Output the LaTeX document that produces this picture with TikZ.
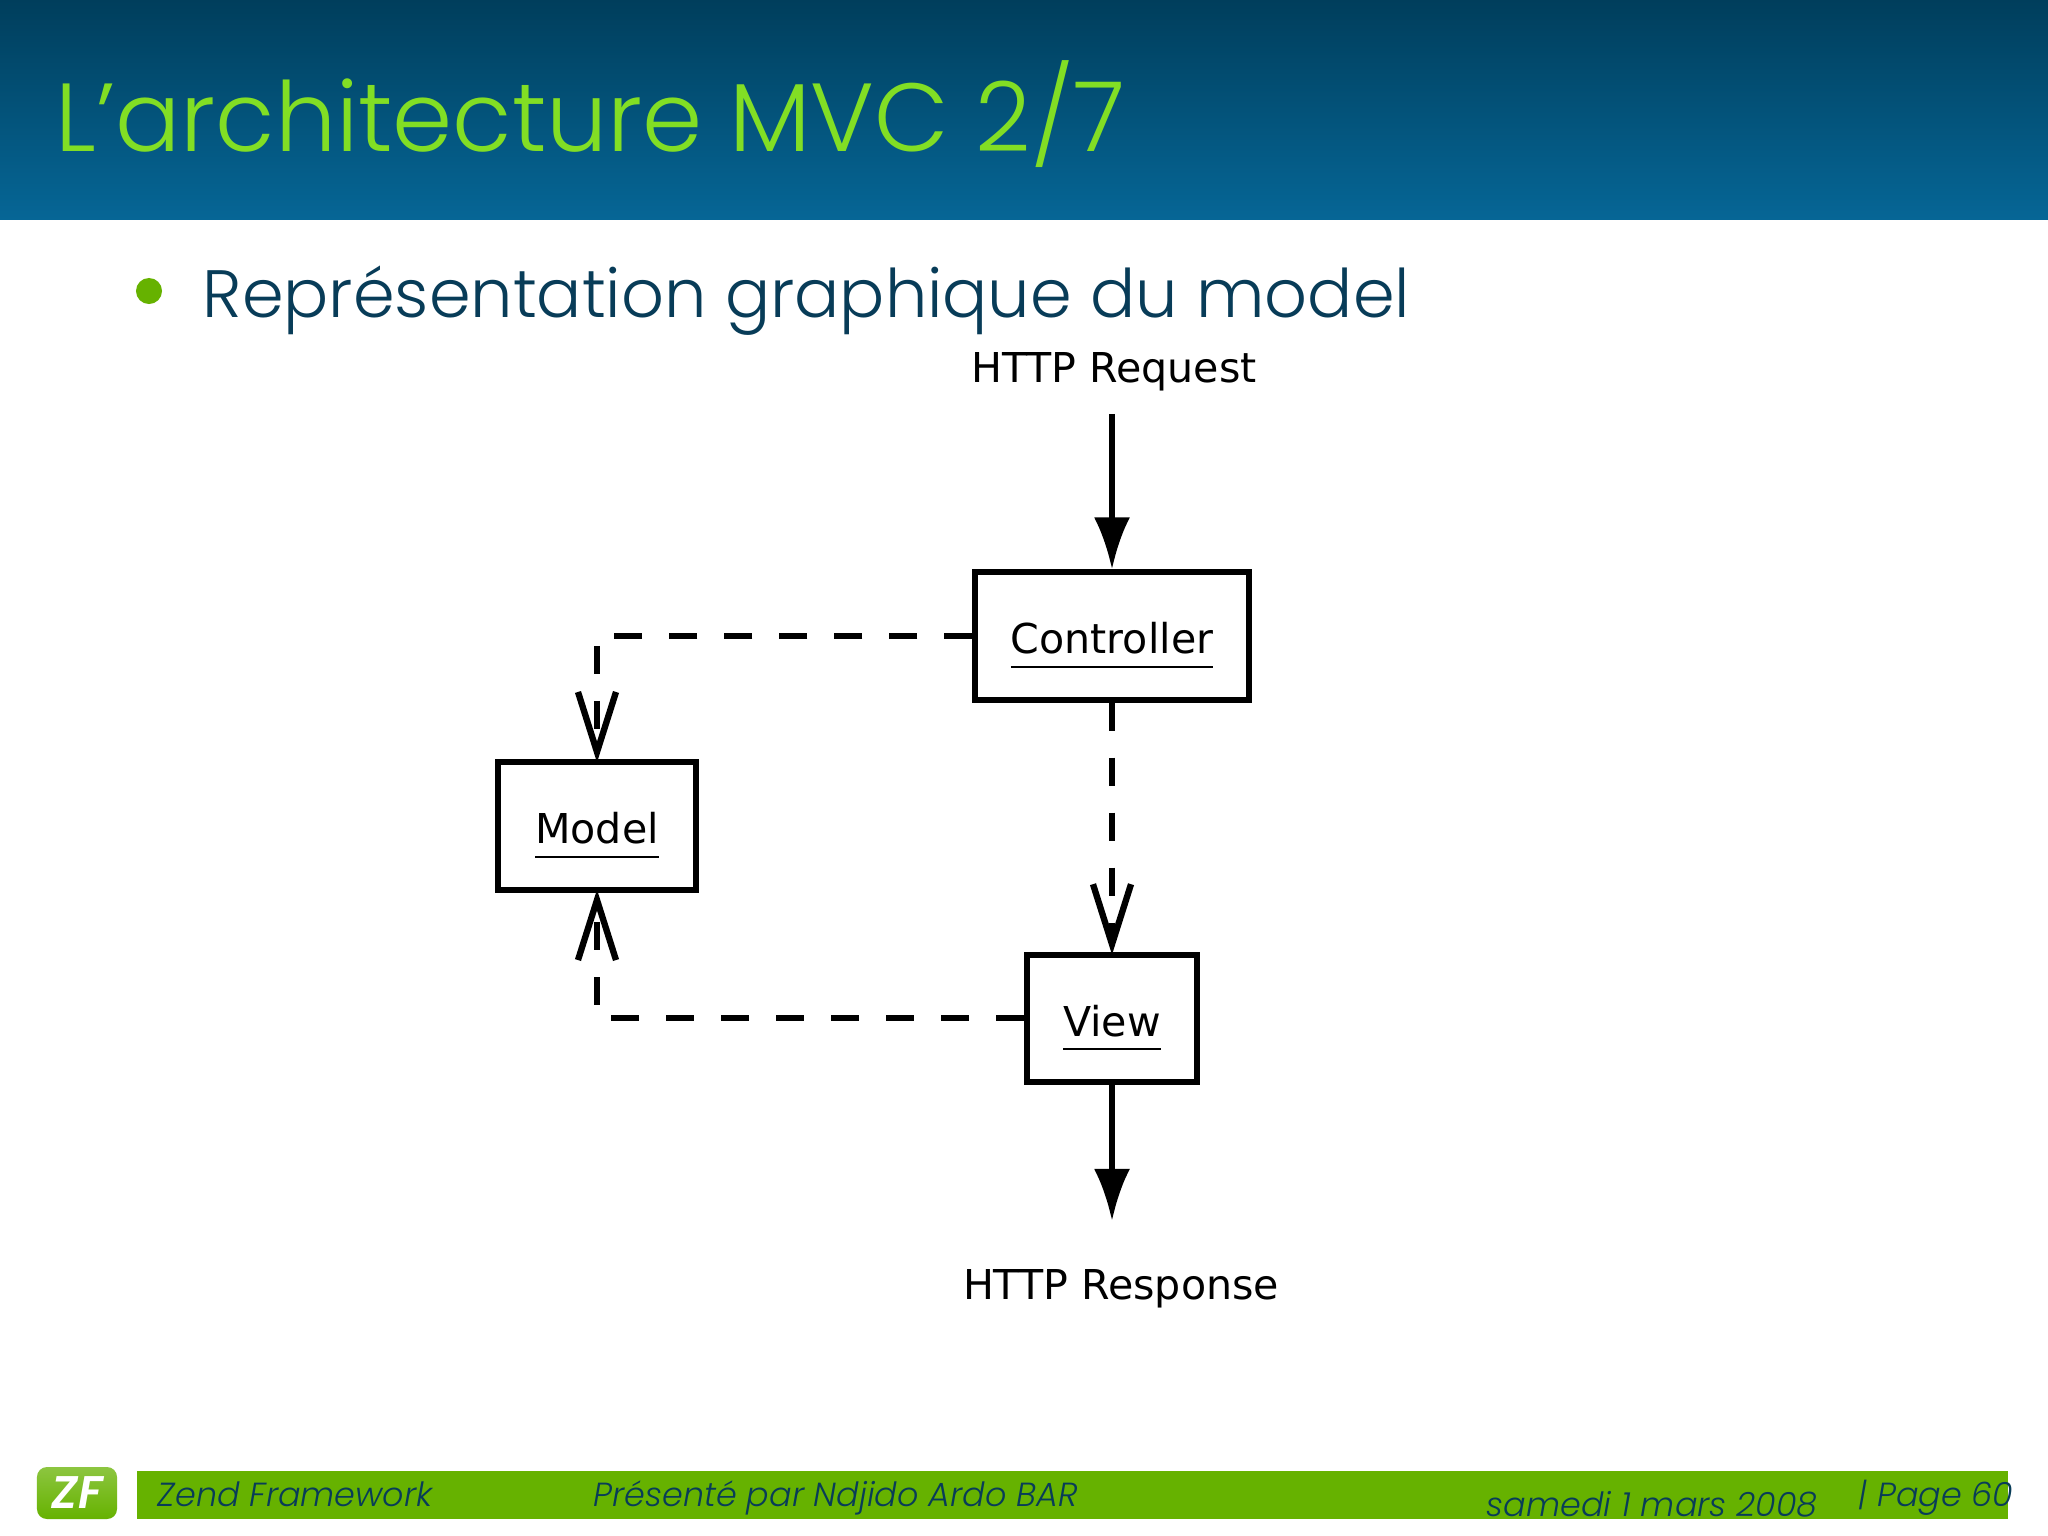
\documentclass[tikz,border=0pt]{standalone}
\usepackage{fontspec}
\setmainfont{Poppins Light}
\newfontfamily\labelfont{DejaVu Sans}
\usetikzlibrary{arrows.meta, calc, positioning}
\definecolor{myTitleTop}{RGB}{0, 62, 92}
\definecolor{myTitleLow}{RGB}{6, 102, 150}
\definecolor{myLime}{RGB}{130, 222, 36}
\definecolor{myGreen}{RGB}{102, 178, 0}
\definecolor{myInk}{RGB}{8, 60, 88}
\newcommand{\ulabel}[1]{\vtop{\hbox{\rule{0pt}{14.2pt}#1}\kern3.2pt\hrule height 0.7pt}}
\tikzstyle{box}= [draw=black, line width=1.7pt]
\tikzstyle{Box}= [minimum height=1.27cm, inner sep=0pt, box, font=\labelfont\fontsize{11.7}{13}\selectfont]
\tikzstyle{call}= [line width=1.8pt, dash pattern=on 0.28cm off 0.27cm, shorten >=-0.03cm, -{Straight Barb[length=0.60cm, width=0.38cm]}]
\tikzstyle{flow}= [line width=1.7pt, -{Latex[length=0.52cm, width=0.36cm]}]
\tikzstyle{http}= [font=\labelfont\fontsize{11.7}{13}\selectfont, inner sep=0pt]
\tikzstyle{foot}= [anchor=base west, inner sep=0pt, text=myInk, font=\itshape\fontsize{9.5}{12}\selectfont]

\begin{document}
\begin{tikzpicture}[x=0.01cm,y=-0.01cm]
    \useasboundingbox (0,0) rectangle (2048,1536);
    \fill[white] (0,0) rectangle (2048,1536);

    % title band
    \shade[top color=myTitleTop, bottom color=myTitleLow] (0,0) rectangle (2048,219);
    \node [anchor=base west, inner sep=0pt, text=myLime, font=\fontsize{27.5}{32}\selectfont] (Title) at (55,151) {L’architecture MVC 2/7};

    % bullet line
    \node [circle, fill=myGreen, minimum size=0.26cm, inner sep=0pt] (Bullet) at (149,291) {};
    \node [anchor=base west, inner sep=0pt, text=myInk, font=\fontsize{19.05}{24}\selectfont] (Heading) at (202,317) {Représentation graphique du model};

    % the three boxes
    \node [Box, minimum width=2.73cm] (Controller) at (1112,636) {\ulabel{Controller}};
    \node [Box, below of=Controller, node distance=3.82cm, minimum width=1.70cm] (View) {\ulabel{View}};
    \node [Box, minimum width=1.98cm] (Model) at (597,826) {\ulabel{Model}};

    \node [http] (Request) at (1114,372) {HTTP Request};
    \node [http] (Response) at (1121,1289) {HTTP Response};

    % request and response path
    \draw[flow] (Controller |- Request.south) ++(0,22) -- (Controller.north);
    \draw[flow, shorten >=0.48cm] (View.south) -- (View |- Response.north);

    % dashed calls
    \draw[call] (Controller.west) -| (Model.north);
    \draw[call] (View.west) -| (Model.south);
    \draw[call] (Controller.south) -- (View.north);

    % footer
    \fill[myGreen] (137,1471) rectangle (2008,1519);
    \node [top color=myGreen!75!white, bottom color=myGreen, rounded corners=0.1cm, minimum width=0.80cm, minimum height=0.52cm, inner sep=0pt, text=white, font=\bfseries\itshape\fontsize{13}{14}\selectfont] (Logo) at (77,1493) {ZF};
    \node [foot] (Framework) at (157,1506) {Zend Framework};
    \node [foot] (Author) at (593,1506) {Présenté par Ndjido Ardo BAR};
    \node [foot] (Date) at (1486,1516) {samedi 1 mars 2008};
    \node [foot] (Page) at (1858,1506) {| Page 60};
\end{tikzpicture}
\end{document}
